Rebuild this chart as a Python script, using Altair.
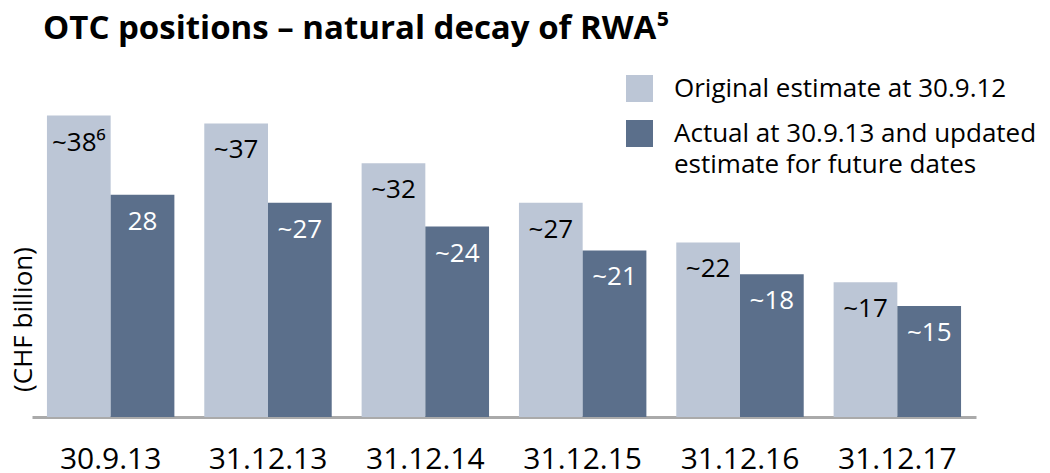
import altair as alt
import pandas as pd

dates = ["30.9.13", "31.12.13", "31.12.14", "31.12.15", "31.12.16", "31.12.17"]
original = [38, 37, 32, 27, 22, 17]
actual = [28, 27, 24, 21, 18, 14]
original_labels = ["~38⁶", "~37", "~32", "~27", "~22", "~17"]
actual_labels = ["28", "~27", "~24", "~21", "~18", "~15"]
series_names = ["Original estimate at 30.9.12", "Actual at 30.9.13 and updated estimate for future dates"]
series_colors = ["#BCC6D6", "#5B6F8B"]

rows = []
for d, v, l in zip(dates, original, original_labels):
    rows.append({"date": d, "series": series_names[0], "value": v, "label": l})
for d, v, l in zip(dates, actual, actual_labels):
    rows.append({"date": d, "series": series_names[1], "value": v, "label": l})
df = pd.DataFrame(rows)

FONT = "Open Sans"

x_enc = alt.X(
    "date:N",
    sort=dates,
    scale=alt.Scale(paddingInner=0.19, paddingOuter=0.095),
    axis=alt.Axis(
        title=None, labelAngle=0, ticks=False, domainColor="#AAAAAA", domainWidth=3,
        labelFontSize=30, labelPadding=27, labelColor="black", labelFont=FONT,
    ),
)
xoff = alt.XOffset("series:N", sort=series_names, scale=alt.Scale(paddingInner=0, paddingOuter=0))
y_enc = alt.Y(
    "value:Q",
    scale=alt.Scale(domain=[0, 45], nice=False),
    axis=alt.Axis(
        labels=False, ticks=False, domain=False, grid=False, title="(CHF billion)",
        titleFontSize=26, titleFontWeight="normal", titleFont=FONT, titleColor="black",
        titleAngle=-90, titleAlign="center", titleBaseline="middle", titleX=-9, titleY=259,
    ),
)

bars = alt.Chart(df).mark_bar().encode(
    x=x_enc,
    xOffset=xoff,
    y=y_enc,
    color=alt.Color(
        "series:N",
        sort=series_names,
        scale=alt.Scale(domain=series_names, range=series_colors),
        legend=alt.Legend(
            title=None, orient="none", legendX=594, legendY=15,
            symbolType="square", symbolSize=729, symbolStrokeWidth=0, symbolOpacity=1,
            labelFontSize=26, labelFont=FONT, labelColor="black", labelOffset=21,
            labelLimit=500, rowPadding=18,
            labelExpr="datum.label == 'Original estimate at 30.9.12' ? datum.label : ['Actual at 30.9.13 and updated', 'estimate for future dates']",
        ),
    ),
)

texts = alt.Chart(df).mark_text(
    baseline="middle", align="center", dy=27, fontSize=26, font=FONT
).encode(
    x=alt.X("date:N", sort=dates),
    xOffset=alt.XOffset("series:N", sort=series_names),
    y=alt.Y("value:Q"),
    text="label:N",
    color=alt.condition(alt.datum.series == series_names[1], alt.value("white"), alt.value("black")),
)

chart = alt.layer(bars, texts).properties(
    width=944,
    height=357,
    padding={"left": 2, "top": 5, "right": 5, "bottom": 5},
    title=alt.TitleParams(
        "OTC positions – natural decay of RWA⁵",
        fontSize=33, fontWeight="bold", font=FONT, color="black",
        anchor="start", dx=33, offset=14,
    ),
).configure(style={"guide-label": {"lineHeight": 31}}).configure_view(stroke=None)

chart.save("out.html", embed_options={"renderer": "svg", "actions": False})
